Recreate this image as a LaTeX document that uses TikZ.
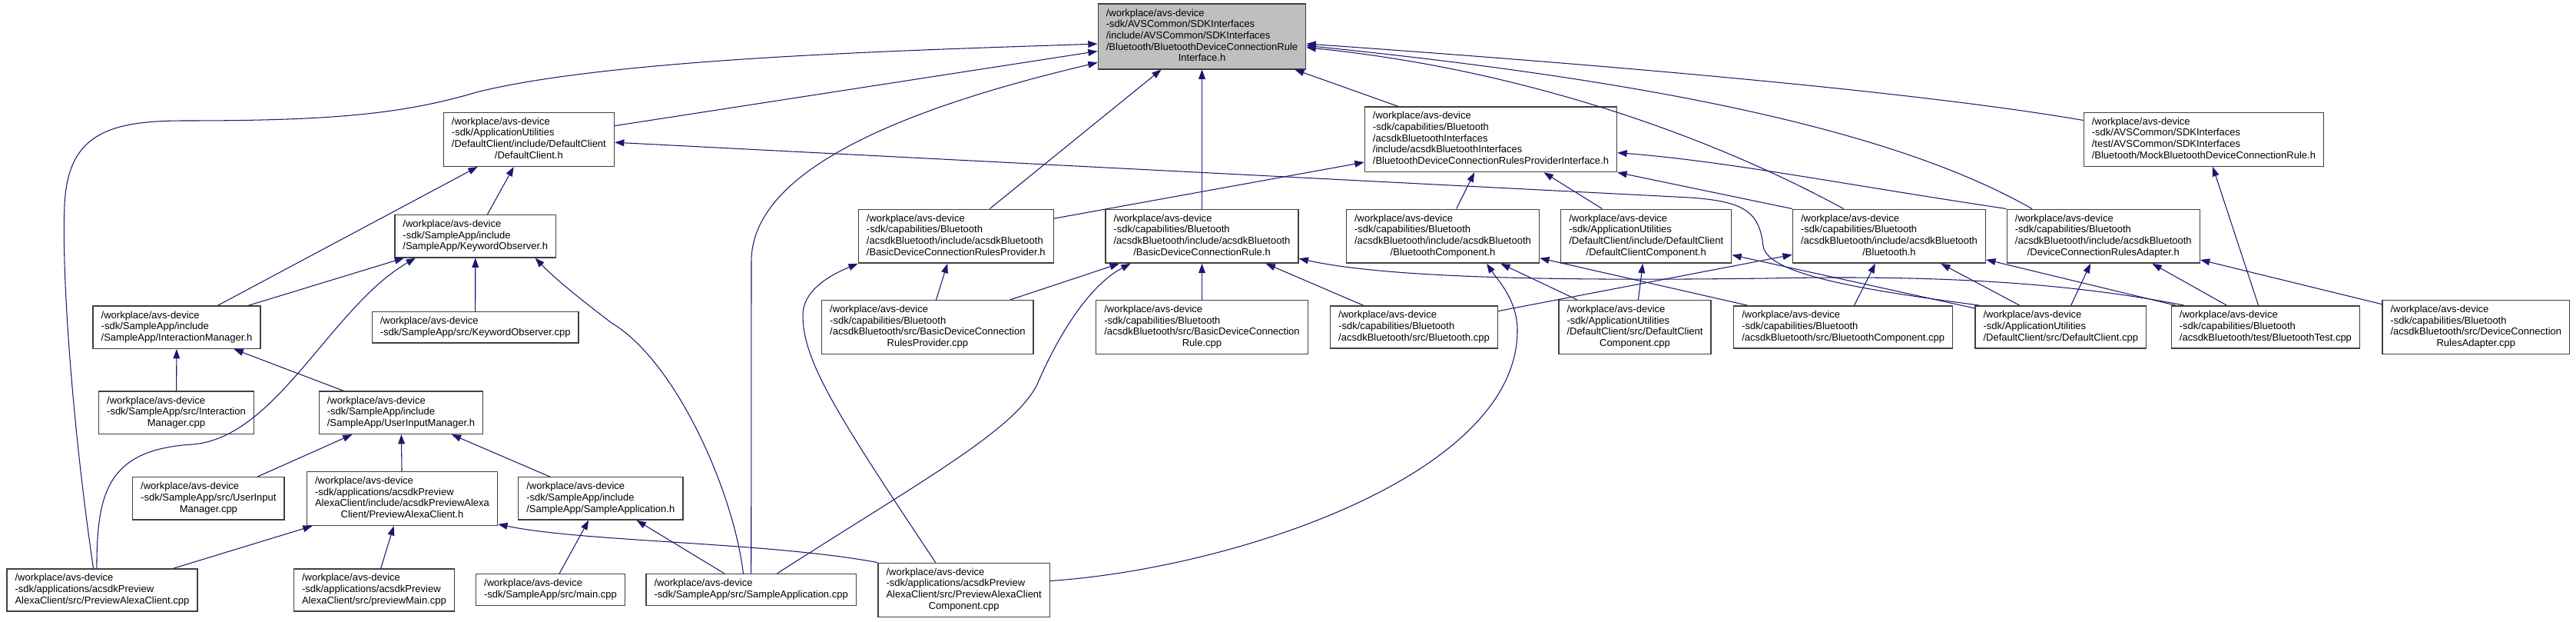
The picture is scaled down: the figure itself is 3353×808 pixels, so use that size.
\documentclass[tikz,border=0pt]{standalone}
\usepackage{fontspec}
\setmainfont{Liberation Sans}
\usepackage{xcolor}
\usepackage{tikz}
\usetikzlibrary{arrows.meta, positioning, calc}

\definecolor{edgeblue}{HTML}{191970}
\definecolor{rootgray}{HTML}{BFBFBF}
\definecolor{boxline}{HTML}{404040}

\newcommand{\lastln}[1]{\multicolumn{1}{@{}c@{}}{#1}}
\newcommand{\flbl}[2]{\begin{tabular}{@{}l@{}}#1\\\lastln{#2}\end{tabular}}

\begin{document}
\begin{tikzpicture}[x=0.02cm, y=-0.02cm,
    file/.style={draw=boxline, line width=0.8pt, fill=white, inner xsep=6pt, inner ysep=3.2pt,
        font=\fontsize{7.4}{8.35}\selectfont},
    rootfile/.style={file, fill=rootgray},
    dep/.style={edgeblue, line width=0.6pt, -{Triangle[length=7pt, width=5pt]}}]
    \path[use as bounding box, fill=white] (0,0) rectangle (3353,808);

    % 根文件
    \node[rootfile] (root) at (1564.5,47.5) {\flbl{/workplace/avs-device\\-sdk/AVSCommon/SDKInterfaces\\/include/AVSCommon/SDKInterfaces\\/Bluetooth/BluetoothDeviceConnectionRule}{Interface.h}};

    % 头文件
    \node[file] (dch) at (688.4,181.3) {\flbl{/workplace/avs-device\\-sdk/ApplicationUtilities\\/DefaultClient/include/DefaultClient}{/DefaultClient.h}};
    \node[file] (bdcrpi) at (1940.5,181.3) {\flbl{/workplace/avs-device\\-sdk/capabilities/Bluetooth\\/acsdkBluetoothInterfaces\\/include/acsdkBluetoothInterfaces}{/BluetoothDeviceConnectionRulesProviderInterface.h}};
    \node[file] (mock) at (2868.4,181.3) {\flbl{/workplace/avs-device\\-sdk/AVSCommon/SDKInterfaces\\/test/AVSCommon/SDKInterfaces}{/Bluetooth/MockBluetoothDeviceConnectionRule.h}};
    \node[file] (koh) at (618.75,307.2) {\flbl{/workplace/avs-device\\-sdk/SampleApp/include}{/SampleApp/KeywordObserver.h}};
    \node[file] (bdcrph) at (1244.3,307.2) {\flbl{/workplace/avs-device\\-sdk/capabilities/Bluetooth\\/acsdkBluetooth/include/acsdkBluetooth}{/BasicDeviceConnectionRulesProvider.h}};
    \node[file] (bdcrh) at (1564.5,307.2) {\flbl{/workplace/avs-device\\-sdk/capabilities/Bluetooth\\/acsdkBluetooth/include/acsdkBluetooth}{/BasicDeviceConnectionRule.h}};
    \node[file] (bch) at (1878,307.2) {\flbl{/workplace/avs-device\\-sdk/capabilities/Bluetooth\\/acsdkBluetooth/include/acsdkBluetooth}{/BluetoothComponent.h}};
    \node[file] (dcch) at (2142.7,307.2) {\flbl{/workplace/avs-device\\-sdk/ApplicationUtilities\\/DefaultClient/include/DefaultClient}{/DefaultClientComponent.h}};
    \node[file] (bth) at (2459,307.2) {\flbl{/workplace/avs-device\\-sdk/capabilities/Bluetooth\\/acsdkBluetooth/include/acsdkBluetooth}{/Bluetooth.h}};
    \node[file] (dcrah) at (2737.8,307.2) {\flbl{/workplace/avs-device\\-sdk/capabilities/Bluetooth\\/acsdkBluetooth/include/acsdkBluetooth}{/DeviceConnectionRulesAdapter.h}};
    \node[file] (imh) at (230,425.8) {\flbl{/workplace/avs-device\\-sdk/SampleApp/include}{/SampleApp/InteractionManager.h}};
    \node[file] (uimh) at (522,536.8) {\flbl{/workplace/avs-device\\-sdk/SampleApp/include}{/SampleApp/UserInputManager.h}};
    \node[file] (pach) at (523.5,648.4) {\flbl{/workplace/avs-device\\-sdk/applications/acsdkPreview\\AlexaClient/include/acsdkPreviewAlexa}{Client/PreviewAlexaClient.h}};
    \node[file] (sah) at (781.8,648.4) {\flbl{/workplace/avs-device\\-sdk/SampleApp/include}{/SampleApp/SampleApplication.h}};

    % 源文件
    \node[file] (kocpp) at (618.7,425.8) {\flbl{/workplace/avs-device}{-sdk/SampleApp/src/KeywordObserver.cpp}};
    \node[file] (bdcrpcpp) at (1207.4,425.5) {\flbl{/workplace/avs-device\\-sdk/capabilities/Bluetooth\\/acsdkBluetooth/src/BasicDeviceConnection}{RulesProvider.cpp}};
    \node[file] (bdcrcpp) at (1564.5,425.5) {\flbl{/workplace/avs-device\\-sdk/capabilities/Bluetooth\\/acsdkBluetooth/src/BasicDeviceConnection}{Rule.cpp}};
    \node[file] (btcpp) at (1840.5,425.5) {\flbl{/workplace/avs-device\\-sdk/capabilities/Bluetooth}{/acsdkBluetooth/src/Bluetooth.cpp}};
    \node[file] (dcccpp) at (2128,425.5) {\flbl{/workplace/avs-device\\-sdk/ApplicationUtilities\\/DefaultClient/src/DefaultClient}{Component.cpp}};
    \node[file] (bccpp) at (2399.2,425.5) {\flbl{/workplace/avs-device\\-sdk/capabilities/Bluetooth}{/acsdkBluetooth/src/BluetoothComponent.cpp}};
    \node[file] (dccpp) at (2682.3,425.5) {\flbl{/workplace/avs-device\\-sdk/ApplicationUtilities}{/DefaultClient/src/DefaultClient.cpp}};
    \node[file] (bttcpp) at (2948.9,425.5) {\flbl{/workplace/avs-device\\-sdk/capabilities/Bluetooth}{/acsdkBluetooth/test/BluetoothTest.cpp}};
    \node[file] (dcracpp) at (3222.8,425.5) {\flbl{/workplace/avs-device\\-sdk/capabilities/Bluetooth\\/acsdkBluetooth/src/DeviceConnection}{RulesAdapter.cpp}};
    \node[file] (imcpp) at (229.5,536.8) {\flbl{/workplace/avs-device\\-sdk/SampleApp/src/Interaction}{Manager.cpp}};
    \node[file] (uimcpp) at (271.4,648.4) {\flbl{/workplace/avs-device\\-sdk/SampleApp/src/UserInput}{Manager.cpp}};
    \node[file] (paccpp) at (133,767.5) {\flbl{/workplace/avs-device\\-sdk/applications/acsdkPreview}{AlexaClient/src/PreviewAlexaClient.cpp}};
    \node[file] (pmcpp) at (487,767.5) {\flbl{/workplace/avs-device\\-sdk/applications/acsdkPreview}{AlexaClient/src/previewMain.cpp}};
    \node[file] (maincpp) at (716.5,767) {\flbl{/workplace/avs-device}{-sdk/SampleApp/src/main.cpp}};
    \node[file] (sacpp) at (977.7,767) {\flbl{/workplace/avs-device}{-sdk/SampleApp/src/SampleApplication.cpp}};
    \node[file] (pacccpp) at (1254.7,767.3) {\flbl{/workplace/avs-device\\-sdk/applications/acsdkPreview\\AlexaClient/src/PreviewAlexaClient}{Component.cpp}};

    % 包含根文件
    \draw[dep] (dch.9) -- (root.188);
    \draw[dep] (paccpp.112) .. controls (95,560) and (80,360) .. (84,267) .. controls (88,175) and (140,157) .. (240,157)
        .. controls (420,157) and (520,150) .. (620,120) .. controls (800,75) and (1200,65) .. (root.184);
    \draw[dep] (sacpp.north) -- (978,340) .. controls (978,220) and (1180,140) .. (root.194);
    \draw[dep] (bdcrph) -- (root);
    \draw[dep] (bdcrh) -- (root);
    \draw[dep] (bdcrpi) -- (root);
    \draw[dep] (mock.171) .. controls (2500,120) and (2100,85) .. (root.-4);
    \draw[dep] (dcrah.159) .. controls (2450,160) and (2100,100) .. (root.-5);
    \draw[dep] (bth.149) .. controls (2202,164) and (1954,87) .. (root.-6);

    % DefaultClient.h
    \draw[dep] (koh) -- (dch);
    \draw[dep] (imh) -- (dch);
    \draw[dep] (dccpp.165) .. controls (2450,380) and (2300,360) .. (2295,320) .. controls (2290,275) and (2270,262) .. (2200,257) -- (dch.-2);

    % KeywordObserver.h
    \draw[dep] (imh) -- (koh);
    \draw[dep] (paccpp.104) .. controls (126,640) and (140,585) .. (250,578) .. controls (360,570) and (430,400) .. (koh.200);
    \draw[dep] (kocpp) -- (koh);
    \draw[dep] (sacpp.116) .. controls (955,640) and (880,470) .. (796,420) .. controls (750,385) and (720,360) .. (koh.-20);

    % InteractionManager.h, UserInputManager.h
    \draw[dep] (imcpp) -- (imh);
    \draw[dep] (uimh) -- (imh);
    \draw[dep] (uimcpp) -- (uimh);
    \draw[dep] (pach) -- (uimh);
    \draw[dep] (sah) -- (uimh);

    % PreviewAlexaClient.h, SampleApplication.h
    \draw[dep] (paccpp) -- (pach);
    \draw[dep] (pmcpp) -- (pach);
    \draw[dep] (pacccpp.north west) .. controls (1000,705) and (760,705) .. (pach.-15);
    \draw[dep] (maincpp) -- (sah);
    \draw[dep] (sacpp) -- (sah);

    % BasicDeviceConnectionRulesProvider.h
    \draw[dep] (bdcrpcpp) -- (bdcrph);
    \draw[dep] (pacccpp.136) .. controls (1090,540) and (1045,470) .. (1045,410) .. controls (1045,380) and (1075,360) .. (bdcrph.south west);

    % BasicDeviceConnectionRule.h
    \draw[dep] (bdcrcpp) -- (bdcrh);
    \draw[dep] (bdcrpcpp) -- (bdcrh);
    \draw[dep] (sacpp.32) .. controls (1200,625) and (1320,560) .. (1350,500) .. controls (1380,430) and (1420,370) .. (bdcrh.201);
    \draw[dep] (btcpp) -- (bdcrh);
    \draw[dep] (bttcpp.165) .. controls (2680,365) and (2500,358) .. (2300,362) .. controls (2000,366) and (1800,360) .. (bdcrh.-13);

    % BluetoothComponent.h
    \draw[dep] (pacccpp.6) .. controls (1600,740) and (1975,620) .. (1975,430) .. controls (1975,390) and (1950,365) .. (bch.-32);
    \draw[dep] (dcccpp) -- (bch);
    \draw[dep] (bccpp) -- (bch);

    % DefaultClientComponent.h
    \draw[dep] (dcccpp) -- (dcch);
    \draw[dep] (dccpp) -- (dcch);

    % BluetoothDeviceConnectionRulesProviderInterface.h
    \draw[dep] (bdcrph) -- (bdcrpi);
    \draw[dep] (bch) -- (bdcrpi);
    \draw[dep] (dcch) -- (bdcrpi);
    \draw[dep] (dcrah.north west) .. controls (2400,240) and (2250,210) .. (bdcrpi.-6);
    \draw[dep] (bth.north west) -- (bdcrpi.south east);

    % Bluetooth.h
    \draw[dep] (btcpp) -- (bth);
    \draw[dep] (bccpp) -- (bth);
    \draw[dep] (dccpp) -- (bth);
    \draw[dep] (bttcpp) -- (bth);

    % DeviceConnectionRulesAdapter.h, Mock
    \draw[dep] (dccpp) -- (dcrah);
    \draw[dep] (bttcpp) -- (dcrah);
    \draw[dep] (dcracpp) -- (dcrah);
    \draw[dep] (bttcpp) -- (mock);
\end{tikzpicture}
\end{document}
